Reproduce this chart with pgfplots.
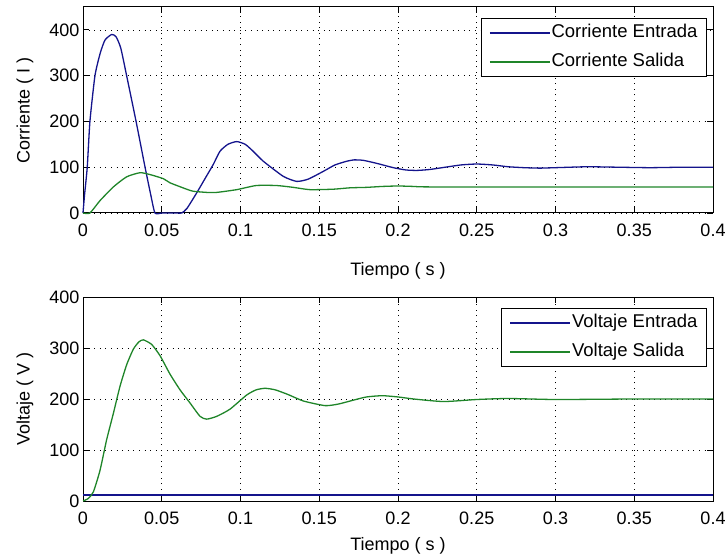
\documentclass[border=0pt]{standalone}
\usepackage{pgfplots}
\pgfplotsset{compat=1.18}
\usepackage{fontspec}
\setmainfont{Liberation Sans}
\definecolor{mblue}{rgb}{0.08,0.08,0.55}
\definecolor{mgreen}{rgb}{0.12,0.52,0.16}
\pgfplotsset{
  mstyle/.style={
    scale only axis, width=630bp,
    xmin=0, xmax=0.4, clip=false,
    xtick={0,0.05,0.1,0.15,0.2,0.25,0.3,0.35,0.4},
    xticklabels={0,0.05,0.1,0.15,0.2,0.25,0.3,0.35,0.4},
    /pgf/number format/assume math mode=true,
    tick label style={font=\fontsize{18bp}{20bp}\selectfont},
    label style={font=\fontsize{18bp}{20bp}\selectfont},
    xticklabel style={yshift=-7bp},
    tick align=inside, major tick length=6bp,
    tick style={black, line width=0.8bp},
    axis line style={black, line width=1bp},
    grid=major,
    major grid style={black, line width=0.7bp, dash pattern=on 1bp off 4.6bp},
    legend cell align=left,
    legend style={at={(rel axis cs:1,1)}, anchor=north east, xshift=-6bp, yshift=-11bp,
      draw=black, line width=0.9bp, font=\fontsize{18.5bp}{20bp}\selectfont,
      inner xsep=8bp, inner ysep=5bp, row sep=10bp,
      nodes={inner sep=1bp, text height=13bp, text depth=4bp}},
    legend image code/.code={\draw[#1] (0bp,0bp) -- (60bp,0bp);},
    every axis plot/.append style={line width=1.3bp, smooth, tension=0.35},
  }
}
\begin{document}
\begin{tikzpicture}
\path[use as bounding box] (0,0) rectangle (728bp,556bp);
\begin{axis}[mstyle, at={(83bp,343bp)}, anchor=south west, height=206bp,
  ymin=0, ymax=450, ytick={0,100,200,300,400},
  xlabel={Tiempo ( s )}, ylabel={Corriente ( I )},
  xlabel style={at={(axis description cs:0.5,-0.282)}, anchor=center},
  ylabel style={at={(axis description cs:-0.092,0.5)}, anchor=center}]
\addplot[mblue] coordinates {
(0,0) (0.001,40) (0.0027,100) (0.0044,200) (0.0076,300) (0.011,350) (0.014,378)
(0.0182,390) (0.021,385) (0.024,360) (0.0277,300) (0.0337,200) (0.0394,100)
(0.043,40) (0.0457,0) (0.05,0) (0.055,0) (0.06,0) (0.0627,0) (0.066,10) (0.0722,44) (0.0783,80) (0.0827,106)
(0.087,135) (0.092,150) (0.0976,156) (0.103,150) (0.108,135) (0.1145,113)
(0.1272,80) (0.1357,69) (0.143,74) (0.1526,91) (0.160,105) (0.1674,113)
(0.172,116) (0.178,115) (0.187,108) (0.197,99) (0.205,94) (0.212,93) (0.22,95)
(0.23,100) (0.24,105) (0.25,107) (0.26,105) (0.27,101) (0.28,99) (0.29,98)
(0.30,99) (0.32,101) (0.34,100) (0.36,99) (0.38,100) (0.4,100)};
\addlegendentry{Corriente Entrada}
\addplot[mgreen] coordinates {
(0,0) (0.0044,0) (0.0108,27) (0.0193,57) (0.0277,79) (0.0362,88) (0.0425,84)
(0.051,75) (0.0552,66) (0.0658,52) (0.07,47.5) (0.0785,45) (0.0849,45)
(0.0976,51) (0.110,60) (0.123,60) (0.1335,56) (0.144,51) (0.159,52) (0.1695,55)
(0.18,56) (0.19,58) (0.2,59) (0.21,58) (0.22,57) (0.3,57) (0.4,57)};
\addlegendentry{Corriente Salida}
\end{axis}
\begin{axis}[mstyle, at={(83bp,55bp)}, anchor=south west, height=204bp,
  ymin=0, ymax=400, ytick={0,100,200,300,400},
  xlabel={Tiempo ( s )}, ylabel={Voltaje ( V )},
  xlabel style={at={(axis description cs:0.5,-0.221)}, anchor=center},
  ylabel style={at={(axis description cs:-0.092,0.5)}, anchor=center}]
\addplot[mblue] coordinates {(0,12) (0.4,12)};
\addlegendentry{Voltaje Entrada}
\addplot[mgreen] coordinates {
(0,0) (0.0034,5) (0.0066,18) (0.0108,60) (0.015,120) (0.0193,172) (0.0235,225)
(0.0277,267) (0.032,298) (0.0355,312) (0.0383,316) (0.0436,307) (0.0489,285)
(0.0552,249) (0.0616,218) (0.068,192) (0.0743,166) (0.0785,160.5) (0.0849,166)
(0.0933,180) (0.104,208) (0.11,218) (0.1156,221) (0.122,218) (0.13,209)
(0.14,196) (0.1537,187) (0.162,190) (0.172,198) (0.18,204) (0.19,206.5)
(0.2,204) (0.21,200) (0.229,195) (0.25,199) (0.27,201) (0.3,199) (0.35,200) (0.4,200)};
\addlegendentry{Voltaje Salida}
\end{axis}
\end{tikzpicture}
\end{document}
